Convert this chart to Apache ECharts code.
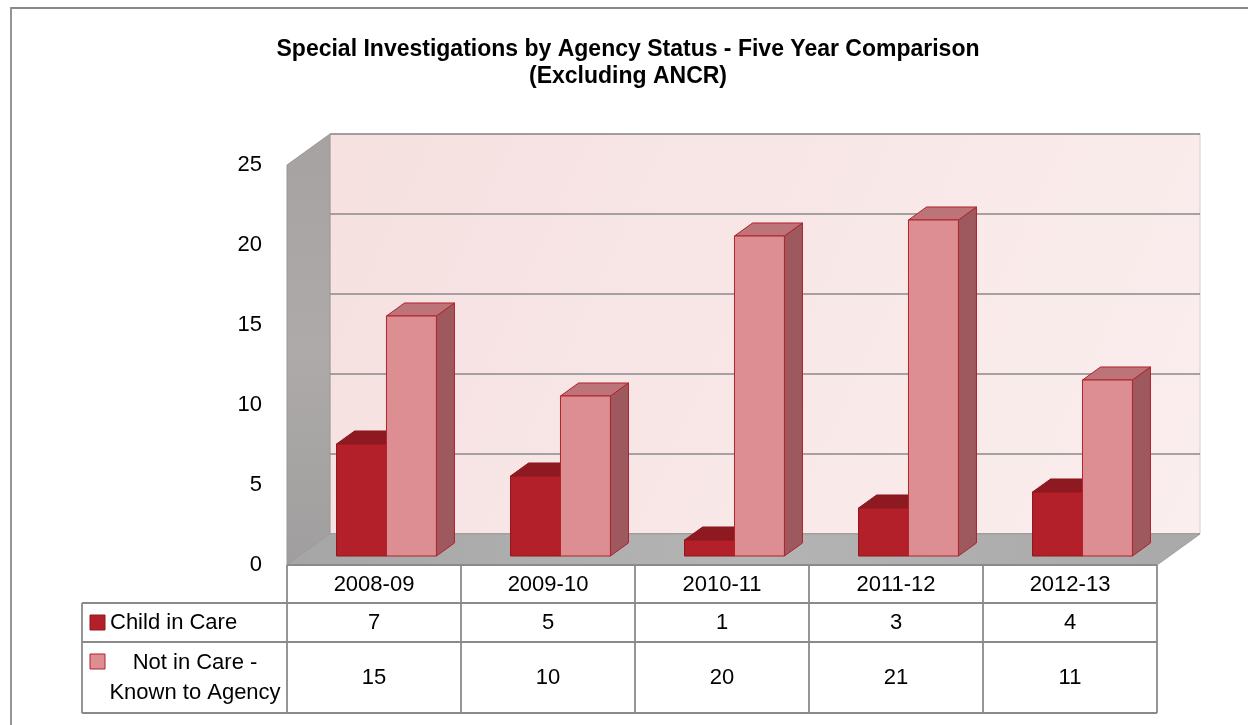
<!DOCTYPE html>
<html>
<head>
<meta charset="utf-8">
<title>Special Investigations by Agency Status</title>
<script src="https://cdn.jsdelivr.net/npm/echarts@6/dist/echarts.min.js"></script>
<style>
  html, body { margin: 0; padding: 0; background: #ffffff; }
  #chart { width: 1248px; height: 725px; }
</style>
</head>
<body>
<div id="chart"></div>
<script>
// ---- data ----
const years = ['2008-09', '2009-10', '2010-11', '2011-12', '2012-13'];
const childInCare = [7, 5, 1, 3, 4];
const notInCareKnown = [15, 10, 20, 21, 11];
const seriesNames = ['Child in Care', 'Not in Care -\nKnown to Agency'];
const yTicks = [0, 5, 10, 15, 20, 25];

// ---- layout & style ----
const FONT = "'Liberation Sans', Arial, sans-serif";
const GRID = { left: 287, top: 165, right: 91, bottom: 160 };   // front plane of the 3D box
const DEPTH_X = 43, DEPTH_Y = -31;        // offset from front plane to back wall
const BAR_FRONT = 0.29, BAR_DEPTH = 0.42; // bar position/depth as fractions of box depth
const BAR_FRAC = 0.287;                   // single bar width relative to category width
const LINE = '#8a8a8a';

const palette = [
  { front: '#b3202a', top: '#8c1a20', side: '#7e161b', edge: '#8e161c' },
  { front: '#dc8e93', top: '#bd7479', side: '#9d595e', edge: '#b0222b' }
];

function wallsRenderer(params, api) {
  const cs = params.coordSys;
  const x0 = cs.x, x1 = cs.x + cs.width, yT = cs.y, yB = cs.y + cs.height;
  const children = [
    { // back wall
      type: 'rect',
      shape: { x: x0 + DEPTH_X, y: yT + DEPTH_Y, width: x1 - x0, height: yB - yT },
      style: {
        fill: new echarts.graphic.LinearGradient(0, 0, 1, 1, [
          { offset: 0, color: '#f6e0e0' }, { offset: 1, color: '#fbeeee' }
        ]),
        stroke: '#d9cccc', lineWidth: 1
      }
    },
    { // left side wall
      type: 'polygon',
      shape: { points: [[x0, yB], [x0, yT], [x0 + DEPTH_X, yT + DEPTH_Y], [x0 + DEPTH_X, yB + DEPTH_Y]] },
      style: {
        fill: new echarts.graphic.LinearGradient(0, 0, 0, 1, [
          { offset: 0, color: '#a6a2a2' }, { offset: 0.5, color: '#aeaaaa' }, { offset: 1, color: '#a09e9e' }
        ]),
        stroke: '#9a9696', lineWidth: 1
      }
    }
  ];
  yTicks.forEach(function (v) {
    const y = api.coord([0, v])[1] + DEPTH_Y;
    children.push({
      type: 'line',
      shape: { x1: x0 + DEPTH_X, y1: y, x2: x1 + DEPTH_X, y2: y },
      style: { stroke: LINE, lineWidth: 1.6 }
    });
  });
  children.push({ // floor
    type: 'polygon',
    shape: { points: [[x0, yB], [x1, yB], [x1 + DEPTH_X, yB + DEPTH_Y], [x0 + DEPTH_X, yB + DEPTH_Y]] },
    style: {
      fill: new echarts.graphic.LinearGradient(0, 0, 1, 0, [
        { offset: 0, color: '#a6a6a6' }, { offset: 0.5, color: '#b4b4b4' }, { offset: 1, color: '#a9a9a9' }
      ]),
      stroke: '#9e9e9e', lineWidth: 1
    }
  });
  return { type: 'group', children: children };
}

function barRenderer(slot) {
  const c = palette[slot];
  return function (params, api) {
    const idx = api.value(0), val = api.value(1);
    const base = api.coord([idx, 0]);
    const topPt = api.coord([idx, val]);
    const w = api.size([1, 0])[0] * BAR_FRAC;
    const sx = DEPTH_X * BAR_FRONT, sy = DEPTH_Y * BAR_FRONT;
    const dx = DEPTH_X * BAR_DEPTH, dy = DEPTH_Y * BAR_DEPTH;
    const x0 = base[0] + sx + (slot - 1) * w, x1 = x0 + w;
    const yb = base[1] + sy, yt = topPt[1] + sy;
    const st = function (fill) { return { fill: fill, stroke: c.edge, lineWidth: 1, lineJoin: 'round' }; };
    return {
      type: 'group',
      children: [
        { type: 'polygon', shape: { points: [[x1, yb], [x1 + dx, yb + dy], [x1 + dx, yt + dy], [x1, yt]] }, style: st(c.side) },
        { type: 'polygon', shape: { points: [[x0, yt], [x1, yt], [x1 + dx, yt + dy], [x0 + dx, yt + dy]] }, style: st(c.top) },
        { type: 'rect', shape: { x: x0, y: yt, width: w, height: yb - yt }, style: st(c.front) }
      ]
    };
  };
}

// data table under the plot
function buildTable() {
  const W = 1248, H = 725;
  const colLeft = GRID.left, colRight = W - GRID.right;
  const colW = (colRight - colLeft) / years.length;
  const headTop = H - GRID.bottom, row1Top = 603, row2Top = 642, tableBottom = 713;
  const labelLeft = 82;
  const els = [];
  const ln = function (x1, y1, x2, y2) {
    els.push({ type: 'line', shape: { x1: x1, y1: y1, x2: x2, y2: y2 }, style: { stroke: LINE, lineWidth: 1.8 }, z: 10 });
  };
  ln(colLeft, headTop, colRight, headTop);
  ln(labelLeft, row1Top, colRight, row1Top);
  ln(labelLeft, row2Top, colRight, row2Top);
  ln(labelLeft, tableBottom, colRight, tableBottom);
  ln(labelLeft, row1Top, labelLeft, tableBottom);
  for (let k = 0; k <= years.length; k++) {
    const x = colLeft + k * colW;
    ln(x, headTop, x, tableBottom);
  }
  const rows = [
    { values: childInCare, cy: (row1Top + row2Top) / 2 },
    { values: notInCareKnown, cy: (row2Top + tableBottom) / 2 }
  ];
  rows.forEach(function (r) {
    r.values.forEach(function (v, i) {
      els.push({
        type: 'text', z: 10,
        style: { text: String(v), x: colLeft + (i + 0.5) * colW, y: r.cy, align: 'center', verticalAlign: 'middle',
                 font: '22px ' + FONT, fill: '#000' }
      });
    });
  });
  // legend keys and series names
  els.push({ type: 'rect', z: 10, shape: { x: 90, y: 615, width: 15, height: 15 },
             style: { fill: palette[0].front, stroke: palette[0].top, lineWidth: 1 } });
  els.push({ type: 'text', z: 10, style: { text: seriesNames[0], x: 110, y: rows[0].cy, verticalAlign: 'middle',
             font: '22px ' + FONT, fill: '#000' } });
  els.push({ type: 'rect', z: 10, shape: { x: 90, y: 654, width: 15, height: 15 },
             style: { fill: palette[1].front, stroke: palette[1].edge, lineWidth: 1 } });
  els.push({ type: 'text', z: 10, style: { text: seriesNames[1], x: 195, y: rows[1].cy, align: 'center',
             verticalAlign: 'middle', lineHeight: 30, font: '22px ' + FONT, fill: '#000' } });
  // outer chart frame
  els.push({ type: 'rect', z: 10, shape: { x: 11, y: 8, width: 1260, height: 740 },
             style: { fill: 'none', stroke: LINE, lineWidth: 1.8 } });
  return els;
}

const chart = echarts.init(document.getElementById('chart'), null, { renderer: 'canvas' });
chart.setOption({
  animation: false,
  backgroundColor: '#ffffff',
  title: {
    text: 'Special Investigations by Agency Status - Five Year Comparison\n(Excluding ANCR)',
    left: 623, top: 31, textAlign: 'center',
    textStyle: { fontFamily: FONT, fontSize: 23, fontWeight: 'bold', color: '#000', lineHeight: 27 }
  },
  grid: GRID,
  xAxis: {
    type: 'category', data: years, boundaryGap: true,
    axisLine: { show: false }, axisTick: { show: false },
    axisLabel: { fontFamily: FONT, fontSize: 22, color: '#000', margin: 9 }
  },
  yAxis: {
    type: 'value', min: 0, max: 25, interval: 5,
    axisLine: { show: false }, axisTick: { show: false }, splitLine: { show: false },
    axisLabel: { fontFamily: FONT, fontSize: 22, color: '#000', margin: 25 }
  },
  series: [
    { type: 'custom', name: 'walls', silent: true, clip: false, z: 1, renderItem: wallsRenderer, data: [[0, 0]] },
    { type: 'custom', name: 'Child in Care', clip: false, z: 2, renderItem: barRenderer(0),
      data: childInCare.map(function (v, i) { return [i, v]; }) },
    { type: 'custom', name: 'Not in Care - Known to Agency', clip: false, z: 3, renderItem: barRenderer(1),
      data: notInCareKnown.map(function (v, i) { return [i, v]; }) }
  ],
  graphic: buildTable()
});
</script>
</body>
</html>
